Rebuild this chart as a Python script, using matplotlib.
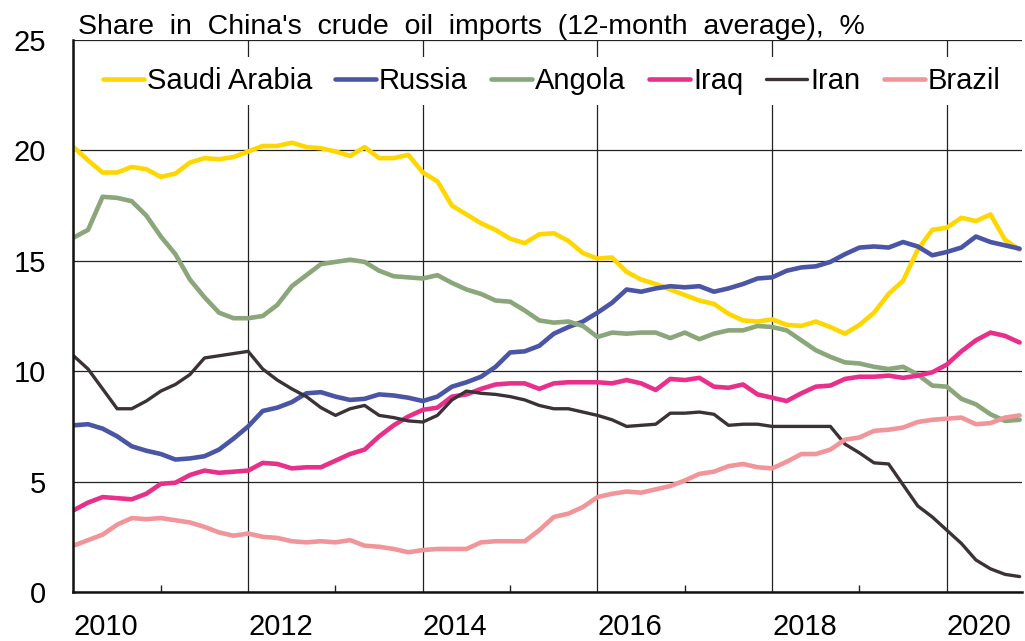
import numpy as np
import matplotlib
matplotlib.use('Agg')
import matplotlib.pyplot as plt
from matplotlib.ticker import MultipleLocator

plt.rcParams['font.family'] = ['Liberation Sans', 'DejaVu Sans']

# bimonthly readings, Jan 2010 .. Nov 2020 (months since Jan 2010)
months = np.arange(0, 132, 2)

saudi = [20.15, 19.55, 19.0, 19.0, 19.25, 19.15, 18.8, 18.95, 19.45, 19.65,
         19.6, 19.7, 19.95, 20.2, 20.2, 20.35, 20.15, 20.1, 19.95, 19.75,
         20.15, 19.65, 19.65, 19.8, 19.0, 18.6, 17.5, 17.1, 16.7, 16.4,
         16.0, 15.8, 16.2, 16.25, 15.9, 15.35, 15.1, 15.15, 14.5, 14.15,
         13.95, 13.7, 13.45, 13.2, 13.05, 12.6, 12.3, 12.25, 12.35, 12.1,
         12.05, 12.25, 12.0, 11.7, 12.1, 12.65, 13.5, 14.1, 15.5, 16.4,
         16.5, 16.95, 16.8, 17.1, 15.95, 15.5]
russia = [7.55, 7.6, 7.4, 7.05, 6.6, 6.4, 6.25, 6.0, 6.05, 6.15,
          6.45, 6.95, 7.5, 8.2, 8.35, 8.6, 9.0, 9.05, 8.85, 8.7,
          8.75, 8.95, 8.9, 8.8, 8.65, 8.85, 9.3, 9.5, 9.75, 10.2,
          10.85, 10.9, 11.15, 11.7, 12.0, 12.25, 12.65, 13.1, 13.7, 13.6,
          13.75, 13.85, 13.8, 13.85, 13.6, 13.75, 13.95, 14.2, 14.25, 14.55,
          14.7, 14.75, 14.95, 15.3, 15.6, 15.65, 15.6, 15.85, 15.65, 15.25,
          15.4, 15.6, 16.1, 15.85, 15.7, 15.55]
angola = [16.05, 16.4, 17.9, 17.85, 17.7, 17.05, 16.1, 15.3, 14.15, 13.35,
          12.65, 12.4, 12.4, 12.5, 13.0, 13.85, 14.35, 14.85, 14.95, 15.05,
          14.95, 14.55, 14.3, 14.25, 14.2, 14.35, 14.0, 13.7, 13.5, 13.2,
          13.15, 12.75, 12.3, 12.2, 12.25, 12.05, 11.55, 11.75, 11.7, 11.75,
          11.75, 11.5, 11.75, 11.45, 11.7, 11.85, 11.85, 12.05, 12.0, 11.85,
          11.4, 10.95, 10.65, 10.4, 10.35, 10.2, 10.1, 10.2, 9.85, 9.35,
          9.3, 8.75, 8.5, 8.05, 7.75, 7.8]
iraq = [3.7, 4.05, 4.3, 4.25, 4.2, 4.45, 4.9, 4.95, 5.3, 5.5,
        5.4, 5.45, 5.5, 5.85, 5.8, 5.6, 5.65, 5.65, 5.95, 6.25,
        6.45, 7.05, 7.55, 7.95, 8.25, 8.35, 8.85, 8.95, 9.2, 9.4,
        9.45, 9.45, 9.2, 9.45, 9.5, 9.5, 9.5, 9.45, 9.6, 9.45,
        9.15, 9.65, 9.6, 9.7, 9.3, 9.25, 9.4, 8.95, 8.8, 8.65,
        9.0, 9.3, 9.35, 9.65, 9.75, 9.75, 9.8, 9.7, 9.8, 9.95,
        10.3, 10.9, 11.4, 11.75, 11.6, 11.3]
iran = [10.7, 10.1, 9.2, 8.3, 8.3, 8.65, 9.1, 9.4, 9.85, 10.6,
        10.7, 10.8, 10.9, 10.1, 9.6, 9.2, 8.85, 8.35, 8.0, 8.3,
        8.45, 8.0, 7.9, 7.75, 7.7, 8.0, 8.7, 9.1, 9.0, 8.95,
        8.85, 8.7, 8.45, 8.3, 8.3, 8.15, 8.0, 7.8, 7.5, 7.55,
        7.6, 8.1, 8.1, 8.15, 8.05, 7.55, 7.6, 7.6, 7.5, 7.5,
        7.5, 7.5, 7.5, 6.7, 6.3, 5.85, 5.8, 4.85, 3.9, 3.4,
        2.8, 2.2, 1.45, 1.05, 0.8, 0.7]
brazil = [2.1, 2.35, 2.6, 3.05, 3.35, 3.3, 3.35, 3.25, 3.15, 2.95,
          2.7, 2.55, 2.65, 2.5, 2.45, 2.3, 2.25, 2.3, 2.25, 2.35,
          2.1, 2.05, 1.95, 1.8, 1.9, 1.95, 1.95, 1.95, 2.25, 2.3,
          2.3, 2.3, 2.8, 3.4, 3.55, 3.85, 4.3, 4.45, 4.55, 4.5,
          4.65, 4.8, 5.05, 5.35, 5.45, 5.7, 5.8, 5.65, 5.6, 5.9,
          6.25, 6.25, 6.45, 6.9, 7.0, 7.3, 7.35, 7.45, 7.7, 7.8,
          7.85, 7.9, 7.6, 7.65, 7.9, 8.0]

names = ['Saudi Arabia', 'Russia', 'Angola', 'Iraq', 'Iran', 'Brazil']
colors = ['#FFD700', '#4B55A5', '#8AA67A', '#E8308A', '#3A3236', '#F2959A']
widths = [3.3, 3.3, 3.3, 3.3, 2.4, 3.3]

t = 2010 + months / 12.0

fig = plt.figure(figsize=(10.25, 6.41), dpi=100)
ax = fig.add_axes([0.0717, 0.0764, 0.9253, 0.8612])

for vals, name, c, w in zip([saudi, russia, angola, iraq, iran, brazil], names, colors, widths):
    ax.plot(t, vals, color=c, lw=w, label=name, solid_capstyle='round')

ax.set_xlim(2010, 2020.86)
ax.set_ylim(0, 25)
ax.yaxis.set_major_locator(MultipleLocator(5))
ax.set_xticks(range(2010, 2021, 2))
ax.set_xticks(range(2011, 2021, 2), minor=True)
ax.set_xticklabels([str(y) for y in range(2010, 2021, 2)], ha='left')
ax.grid(True, which='major', color='#222222', lw=0.9)
ax.set_axisbelow(True)

ax.tick_params(axis='y', which='major', length=0, pad=20, labelsize=21)
ax.tick_params(axis='x', which='major', length=0, pad=15, labelsize=21)
ax.tick_params(axis='x', which='minor', direction='in', length=5, width=1, color='#222222')

for s in ['top', 'right']:
    ax.spines[s].set_visible(False)
for s in ['left', 'bottom']:
    ax.spines[s].set_linewidth(1.8)
    ax.spines[s].set_color('#111111')

leg = ax.legend(loc='upper left', bbox_to_anchor=(0.011, 0.985), ncol=6, fontsize=21,
                frameon=True, framealpha=1, facecolor='white', edgecolor='none',
                handlelength=1.4, handletextpad=0.1, columnspacing=0.8,
                borderpad=0.35, borderaxespad=0.3, fancybox=False)

fig.text(0.076, 0.947, "Share  in  China's  crude  oil  imports  (12-month  average),  %",
         fontsize=20.5, ha='left', va='baseline')

fig.savefig('out.png', dpi=100)
